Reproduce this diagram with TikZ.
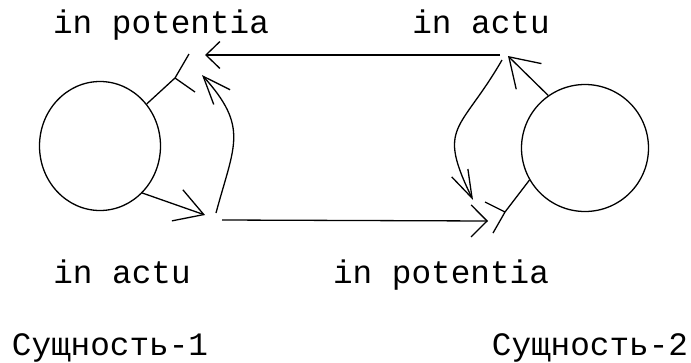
\documentclass[tikz,border=0pt]{standalone}
\usepackage{fontspec}
\usetikzlibrary{arrows.meta, shapes.geometric}
\newfontfamily\monofont{Liberation Mono}

\begin{document}
\begin{tikzpicture}[x=1pt, y=1pt, line width=1.3pt,
		lbl/.style={inner sep=0, anchor=base, font=\monofont\fontsize{32.7}{36}\selectfont},
		barbed/.style={-{Straight Barb[length=28pt, width=30pt, #1]}},
		barbed/.default={}]
	\useasboundingbox (0,0) rectangle (691,-362);

	% the two essences
	\node (ess1)[ellipse, draw, minimum width=121pt, minimum height=129pt, inner sep=0] at (100,-146) {};
	\node (ess2)[circle, draw, minimum size=127pt, inner sep=0] at (585,-148) {};

	\node (pt1)[lbl] at (161,-33) {in potentia};
	\node (at2)[lbl] at (481,-33) {in actu};
	\node (at1)[lbl] at (122,-283) {in actu};
	\node (pt2)[lbl] at (441,-283) {in potentia};
	\node (name1)[lbl] at (110,-355) {Сущность-1};
	\node (name2)[lbl] at (590,-355) {Сущность-2};

	% states: ends of the arrows
	\coordinate (pot1) at (205,-55);
	\coordinate (pot1b) at (202,-75);
	\coordinate (act1) at (205,-215);
	\coordinate (act1b) at (216,-213);
	\coordinate (act1c) at (222,-220);
	\coordinate (act2) at (508,-56);
	\coordinate (act2b) at (502,-60);
	\coordinate (act2c) at (500,-55);
	\coordinate (pot2) at (488,-221);
	\coordinate (pot2b) at (473,-200);
	\coordinate (fork1) at (175,-78);
	\coordinate (fork2) at (505,-212);

	% exchange between the two
	\draw[barbed={length=14pt, width=27pt}] (act2c) -- (pot1);
	\draw[barbed={length=16pt, width=32pt}] (act1c) -- (pot2);

	% own transitions
	\draw[barbed={width=33pt}] (ess1.-48) -- (act1);
	\draw[barbed={width=22pt}] (act1b) to[out=75, in=-48, looseness=1.3] (pot1b);
	\draw (ess1.42) -- (fork1) -- ++(14,24) (fork1) -- ++(20,-14);

	\draw[barbed={width=36pt}] (ess2.125) -- (act2);
	\draw[barbed={width=18pt}] (act2b) to[out=240, in=116, looseness=1.5] (pot2b);
	\draw (ess2.210) -- (fork2) -- ++(-20,10) (fork2) -- ++(-12,-21);
\end{tikzpicture}
\end{document}
